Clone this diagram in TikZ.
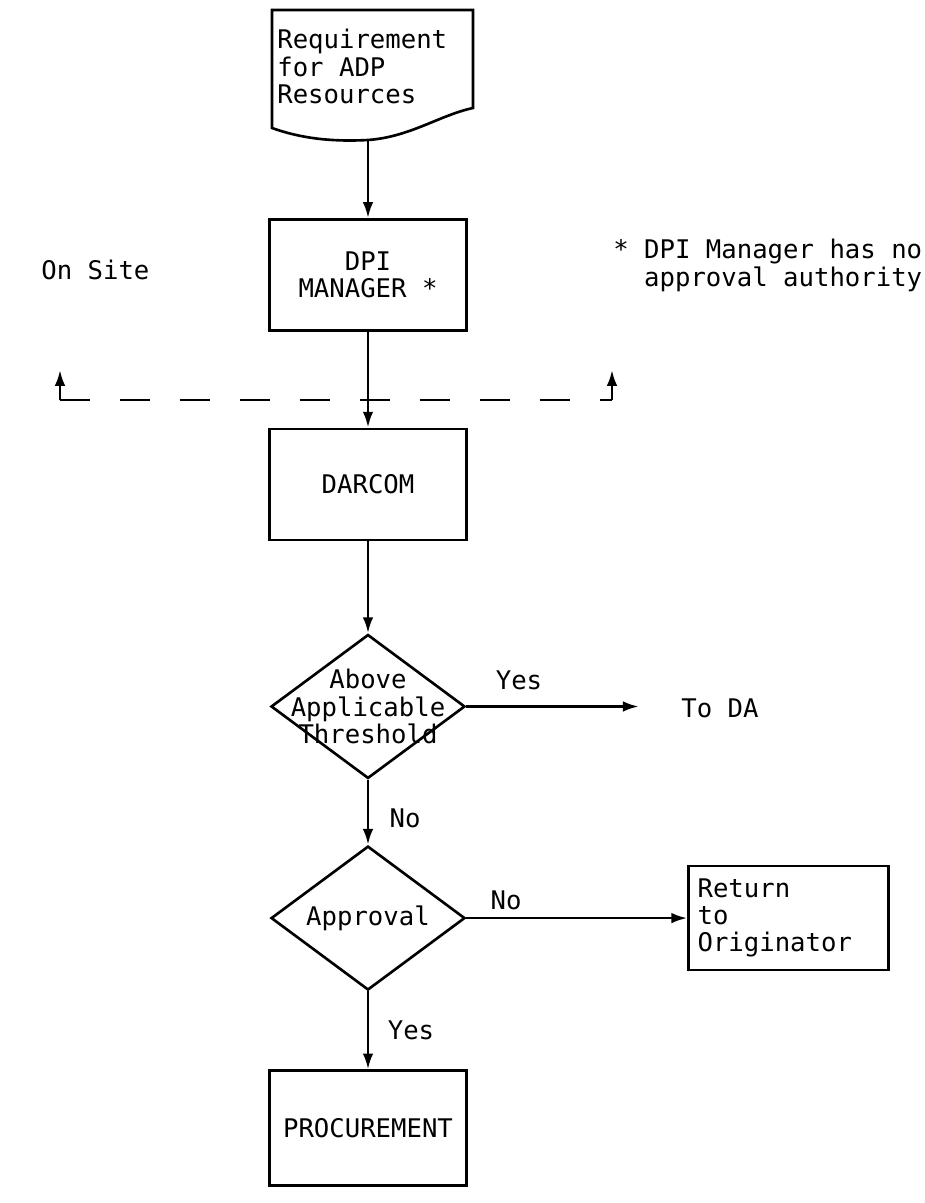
\documentclass[tikz,border=0pt]{standalone}
\usepackage{fontspec}
\setmainfont{DejaVu Sans Mono}
\usepackage{tikz}
\usetikzlibrary{shapes,arrows,arrows.meta,positioning}
\newcommand{\tfont}{\fontsize{14.6}{15.5}\selectfont}

\begin{document}
\begin{tikzpicture}[
    x=0.02cm, y=-0.02cm, line width=1.5pt, >={Latex[length=9pt,width=6pt]},
    every node/.style={font=\tfont},
    box/.style={rectangle, draw, minimum width=3.94cm, minimum height=2.22cm, align=center},
    decision/.style={diamond, draw, minimum width=3.88cm, minimum height=2.88cm, inner sep=0pt},
    note/.style={inner sep=0pt, align=left}
]
    \useasboundingbox (0,0) rectangle (924,1203);

    % Requirement document
    \draw (272,10) -- (473,10) -- (473,108)
        .. controls (440,115) and (410,137) .. (368,140)
        .. controls (330,142) and (300,138) .. (272,128) -- cycle;
    \node[note, anchor=north west] (req) at (276,28) {Requirement\\for ADP\\Resources};
    \coordinate (reqbot) at (368,140);

    \node[box, below=1.56cm of reqbot] (dpi) {DPI\\MANAGER *};
    \node[box, below=1.92cm of dpi] (darcom) {DARCOM};
    \node[decision, below=1.84cm of darcom] (thr) {};
    \node[align=center, inner sep=0pt] (thrtext) at (thr) {Above\\Applicable\\Threshold};
    \node[decision, below=1.3cm of thr] (appr) {};
    \node (apprtext) at (appr) {Approval};
    \node[box, below=1.56cm of appr, minimum height=2.3cm] (proc) {PROCUREMENT};
    \node[box, right=4.42cm of appr, minimum width=4cm, minimum height=2.08cm,
          text width=3.64cm, align=left] (ret) {Return\\to\\Originator};

    % Site boundary
    \coordinate (dl) at (60,400);
    \coordinate (dr) at (612,400);
    \coordinate (dlup) at (60,370);
    \coordinate (drup) at (612,370);
    \draw[dash pattern=on 0.6cm off 0.6cm] (dl) -- (dr);
    \draw[->] (dl) -- (dlup);
    \draw[->] (dr) -- (drup);

    \node[note, anchor=west] (site) at (40,270) {On Site};
    \node[note, anchor=north west] (remark) at (612,238) {* DPI Manager has no\\\hphantom{* }approval authority};

    % Labels
    \coordinate[right=3.45cm of thr.east] (daend);
    \node[note, anchor=west] (toda) at (680,708) {To DA};
    \node (yes1) at (519,680) {Yes};
    \node (no1) at (405,818) {No};
    \node (no2) at (506,900) {No};
    \node (yes2) at (411,1030) {Yes};

    \draw[->] (reqbot) -- (dpi);
    \draw[->] (dpi) -- (darcom);
    \draw[->] (darcom) -- (thr);
    \draw[->] (thr.east) -- (daend);
    \draw[->] (thr) -- (appr);
    \draw[->] (appr.east) -- (ret.west);
    \draw[->] (appr) -- (proc);
\end{tikzpicture}
\end{document}
